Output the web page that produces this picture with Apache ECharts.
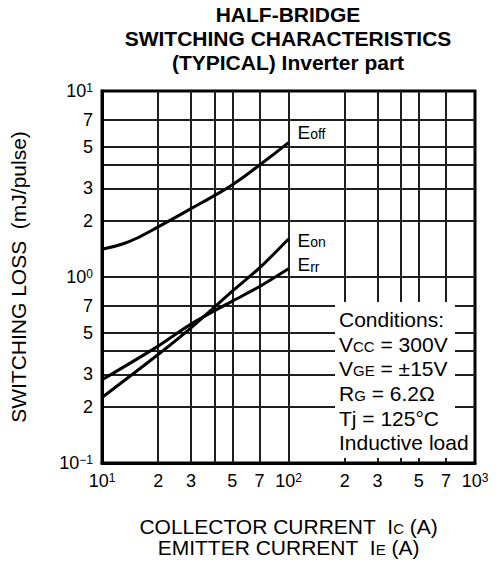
<!DOCTYPE html>
<html>
<head>
<meta charset="utf-8">
<script src="https://cdn.jsdelivr.net/npm/echarts@6/dist/echarts.min.js"></script>
<style>
  html, body { margin: 0; padding: 0; background: #fff; }
  #chart { width: 498px; height: 567px; }
</style>
</head>
<body>
<div id="chart"></div>
<script>
// Grid positions (log decades) and labelled values
const currentGrid = [20, 30, 40, 50, 70, 100, 200, 300, 400, 500, 700];
const currentLabels = [10, 20, 30, 50, 70, 100, 200, 300, 500, 700, 1000];
const lossGrid = [0.2, 0.3, 0.4, 0.5, 0.7, 1, 2, 3, 4, 5, 7];
const lossLabels = [0.1, 0.2, 0.3, 0.5, 0.7, 1, 2, 3, 5, 7, 10];

// Switching loss curves (A, mJ/pulse)
const eoffCurrent = [10, 13, 16, 20, 30, 40, 50, 70, 100];
const eoffLoss = [1.41, 1.51, 1.65, 1.86, 2.33, 2.74, 3.13, 4.0, 5.28];
const eonCurrent = [10, 20, 30, 50, 70, 100];
const eonLoss = [0.225, 0.383, 0.533, 0.839, 1.12, 1.6];
const errCurrent = [10, 20, 30, 50, 70, 100];
const errLoss = [0.28, 0.425, 0.558, 0.742, 0.889, 1.107];

const FONT = '"Liberation Sans", Arial, Helvetica, sans-serif';
const lg = Math.log10;

function pairs(xs, ys) {
  return xs.map((x, i) => [lg(x), lg(ys[i])]);
}

function decadeLabel(v) {
  const n = Math.round(v);
  if (Math.abs(v - n) < 1e-6) {
    return '10{sup|' + (n < 0 ? '\u2212' + (-n) : n) + '}';
  }
  const f = Math.floor(v + 1e-9);
  return String(Math.round(Math.pow(10, v - f)));
}

const supRich = {
  sup: { fontSize: 12, lineHeight: 12, verticalAlign: 'top', fontFamily: FONT, color: '#000' }
};

// small letters sitting on the baseline of the larger text
function subStyle(size, drop) {
  return { fontSize: size, verticalAlign: 'middle', padding: [drop, 0, 0, 0], fontFamily: FONT, color: '#000', fill: '#000' };
}

function curve(name, xs, ys, sub, dy, smooth) {
  return {
    name: name,
    type: 'line',
    data: pairs(xs, ys),
    smooth: smooth,
    symbol: 'none',
    lineStyle: { color: '#000', width: 3 },
    z: 4,
    endLabel: {
      show: true,
      distance: 9,
      offset: [0, dy],
      formatter: () => 'E{s|' + sub + '}',
      fontFamily: FONT,
      fontSize: 19,
      lineHeight: 22,
      color: '#000',
      rich: { s: subStyle(14, 3.5) }
    }
  };
}

const chart = echarts.init(document.getElementById('chart'), null, { renderer: 'svg' });

chart.setOption({
  animation: false,
  backgroundColor: '#fff',
  title: {
    text: 'HALF-BRIDGE\nSWITCHING CHARACTERISTICS\n(TYPICAL) Inverter part',
    left: 288,
    top: 2,
    padding: 0,
    textAlign: 'center',
    textStyle: { fontFamily: FONT, fontSize: 21, fontWeight: 'bold', lineHeight: 24, color: '#000' }
  },
  grid: {
    left: 102, right: 23, top: 91, bottom: 104,
    show: true, borderColor: '#000', borderWidth: 3, backgroundColor: 'transparent'
  },
  xAxis: {
    type: 'value',
    min: 1,
    max: 3,
    name: 'COLLECTOR CURRENT  I{s|C} (A)\nEMITTER CURRENT  I{s|E} (A)',
    nameLocation: 'middle',
    nameGap: 53,
    nameTextStyle: {
      fontFamily: FONT, fontSize: 21, lineHeight: 21, color: '#000',
      rich: { s: subStyle(15, 4) }
    },
    axisLine: { show: true, onZero: false, lineStyle: { color: '#000', width: 3 } },
    axisTick: { show: false, customValues: currentGrid.map(lg) },
    splitLine: { show: true, lineStyle: { color: '#1f1f1f', width: 2 } },
    axisLabel: {
      customValues: currentLabels.map(lg),
      formatter: decadeLabel,
      margin: 9,
      fontFamily: FONT, fontSize: 18, lineHeight: 18, color: '#000',
      rich: supRich
    }
  },
  yAxis: {
    type: 'value',
    min: -1,
    max: 1,
    name: 'SWITCHING LOSS  (mJ/pulse)',
    nameLocation: 'middle',
    nameGap: 73,
    nameRotate: 90,
    nameTextStyle: { fontFamily: FONT, fontSize: 21, color: '#000', padding: [0, 0, 0, 0] },
    axisLine: { show: true, onZero: false, lineStyle: { color: '#000', width: 3 } },
    axisTick: { show: false, customValues: lossGrid.map(lg) },
    splitLine: { show: true, lineStyle: { color: '#1f1f1f', width: 2 } },
    axisLabel: {
      customValues: lossLabels.map(lg),
      formatter: decadeLabel,
      margin: 9,
      fontFamily: FONT, fontSize: 18, lineHeight: 18, color: '#000',
      rich: supRich
    }
  },
  graphic: [
    {
      type: 'rect',
      z: 10,
      shape: { x: 335, y: 302, width: 120, height: 156 },
      style: { fill: '#fff' }
    },
    {
      type: 'text',
      z: 11,
      x: 339,
      y: 307,
      style: {
        text: 'Conditions:\nV{s|CC} = 300V\nV{s|GE} = \u00b115V\nR{s|G} = 6.2\u03a9\nTj = 125\u00b0C\nInductive load',
        fontSize: 21,
        fontFamily: FONT,
        lineHeight: 24.7,
        fill: '#000',
        rich: { s: subStyle(15, 4) }
      }
    }
  ],
  series: [
    curve('Eoff', eoffCurrent, eoffLoss, 'off', -10, 0.5),
    curve('Eon', eonCurrent, eonLoss, 'on', 1, 0.3),
    curve('Err', errCurrent, errLoss, 'rr', -4, 0.3)
  ]
});
</script>
</body>
</html>
